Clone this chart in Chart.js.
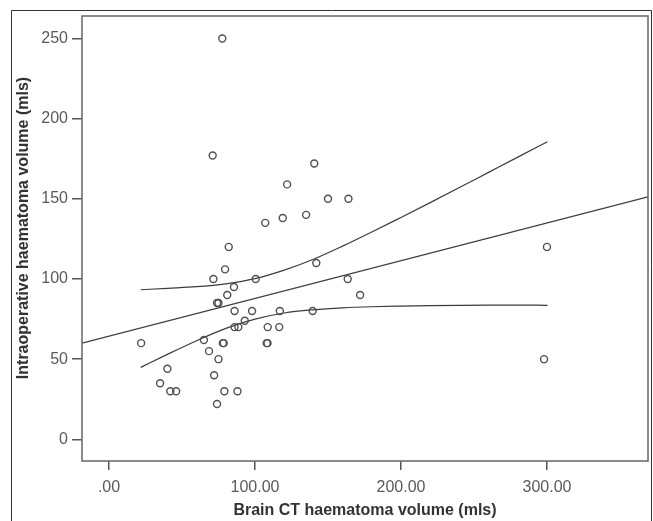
<!DOCTYPE html>
<html><head><meta charset="utf-8">
<script src="https://cdn.jsdelivr.net/npm/chart.js@4/dist/chart.umd.min.js"></script>
<style>html,body{margin:0;padding:0;background:#fff;} #wrap{width:653px;height:521px;position:relative;background:#fff}</style>
</head><body><div id="wrap"><canvas id="c" width="653" height="521"></canvas></div>
<script>
// Scatter data (Brain CT volume vs intraoperative volume)
const ctVolume = [77.6, 71, 82, 79.5, 71.5, 85.6, 81, 74, 75, 86, 93, 86, 88.6, 65, 22, 78, 78.6, 68.5, 75, 40, 72, 35, 42, 46, 79, 88, 74,
  140.6, 122, 150, 164, 107, 119, 135, 142, 100.5, 163.5, 172, 98, 117, 139.5, 108.7, 116.6, 108, 108.6, 300, 298];
const intraopVolume = [250, 177, 120, 106, 100, 95, 90, 85, 85, 80, 74, 70, 70, 62, 60, 60, 60, 55, 50, 44, 40, 35, 30, 30, 30, 30, 22,
  172, 159, 150, 150, 135, 138, 140, 110, 100, 100, 90, 80, 80, 80, 70, 70, 60, 60, 120, 50];
// Fit line (end points read at the plot edges)
const fitX = [-18.5, 369.2];
const fitY = [60.0, 151.2];
// Confidence band samples
const ciX = [21.7, 40, 60, 80, 100, 120, 140, 160, 180, 200, 220, 240, 260, 280, 300.4];
const ciUpper = [93.3, 94.2, 95.2, 97.0, 100.2, 105.5, 112.3, 120.5, 129.3, 138.4, 147.6, 157.0, 166.5, 176.0, 185.6];
const ciLower = [44.9, 53.0, 61.5, 69.2, 75.0, 78.8, 80.8, 82.0, 82.7, 83.1, 83.4, 83.6, 83.7, 83.7, 83.6];
// Axis ticks and titles
const xTicks = [0, 100, 200, 300];
const yTicks = [0, 50, 100, 150, 200, 250];
const xTitle = 'Brain CT haematoma volume (mls)';
const yTitle = 'Intraoperative haematoma volume (mls)';

const FONT = '"Liberation Sans", Arial, sans-serif';
const pts = ctVolume.map((x, i) => ({x: x, y: intraopVolume[i]}));
const fit = fitX.map((x, i) => ({x: x, y: fitY[i]}));
const up = ciX.map((x, i) => ({x: x, y: ciUpper[i]}));
const lo = ciX.map((x, i) => ({x: x, y: ciLower[i]}));

const framePlugin = {
  id: 'frame',
  afterDraw(chart) {
    const ctx = chart.ctx, a = chart.chartArea;
    ctx.save();
    ctx.strokeStyle = '#6f6f6f';
    ctx.lineWidth = 1.6;
    ctx.strokeRect(a.left, a.top, a.right - a.left, a.bottom - a.top);
    ctx.strokeStyle = '#333';
    ctx.lineWidth = 1;
    ctx.beginPath();
    ctx.moveTo(11.5, 525); ctx.lineTo(11.5, 10.5); ctx.lineTo(651.5, 10.5); ctx.lineTo(651.5, 525);
    ctx.stroke();
    ctx.translate(24, 228);
    ctx.rotate(-Math.PI / 2);
    ctx.fillStyle = '#333';
    ctx.font = 'bold 16px ' + FONT;
    ctx.textAlign = 'center';
    ctx.textBaseline = 'middle';
    ctx.fillText(yTitle, 0, 0);
    ctx.restore();
  }
};

new Chart(document.getElementById('c'), {
  type: 'scatter',
  data: {
    datasets: [
      {data: pts, showLine: false, pointStyle: 'circle', pointRadius: 3.5, pointHoverRadius: 3.5,
       borderColor: '#505050', borderWidth: 1.4, backgroundColor: 'rgba(255,255,255,0)'},
      {data: fit, showLine: true, pointRadius: 0, borderColor: '#3c3c3c', borderWidth: 1.2, fill: false},
      {data: up, showLine: true, pointRadius: 0, borderColor: '#3c3c3c', borderWidth: 1.2, fill: false, cubicInterpolationMode: 'monotone'},
      {data: lo, showLine: true, pointRadius: 0, borderColor: '#3c3c3c', borderWidth: 1.2, fill: false, cubicInterpolationMode: 'monotone'}
    ]
  },
  options: {
    responsive: false, animation: false, devicePixelRatio: 1,
    layout: {padding: {left: 0, right: 5, top: 16, bottom: 0}},
    plugins: {legend: {display: false}, tooltip: {enabled: false}},
    scales: {
      x: {
        type: 'linear', min: -18.5, max: 369.2,
        afterBuildTicks: s => { s.ticks = xTicks.map(v => ({value: v})); },
        afterFit: s => { s.height = 60; },
        ticks: {callback: v => v === 0 ? '.00' : Number(v).toFixed(2), font: {size: 16, family: FONT}, color: '#5a5a5a', padding: 8, maxRotation: 0},
        grid: {drawOnChartArea: false, drawTicks: true, tickLength: 9, color: '#555', lineWidth: 1.5},
        border: {display: false},
        title: {display: true, text: xTitle, font: {size: 16, weight: 'bold', family: FONT}, color: '#333', padding: {top: 0, bottom: 1}}
      },
      y: {
        type: 'linear', min: -13.5, max: 264,
        afterBuildTicks: s => { s.ticks = yTicks.map(v => ({value: v})); },
        afterFit: s => { s.width = 82; },
        ticks: {font: {size: 16, family: FONT}, color: '#5a5a5a', padding: 4},
        grid: {drawOnChartArea: false, drawTicks: true, tickLength: 10, color: '#555', lineWidth: 1.5},
        border: {display: false}
      }
    }
  },
  plugins: [framePlugin]
});
</script>
</body></html>
